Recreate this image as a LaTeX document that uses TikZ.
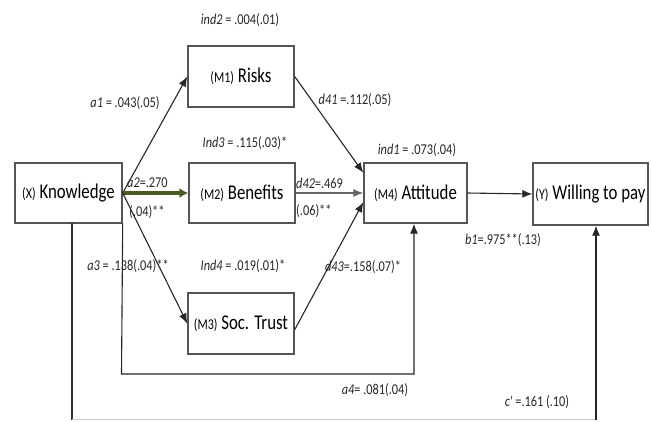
\documentclass[tikz,border=0pt]{standalone}
\usepackage{fontspec}
\setmainfont{Carlito}[FakeStretch=0.8]
\newfontfamily\labfont{Carlito}[FakeStretch=0.82]
\usetikzlibrary{arrows.meta,calc}
\definecolor{olivearr}{HTML}{4A5A22}
\definecolor{boxline}{HTML}{555555}
\tikzset{
  varbox/.style={draw=boxline,line width=1.4pt,minimum width=#1,inner sep=0pt,font=\fontsize{21}{23}\selectfont},
  lab/.style={inner sep=0pt,font=\labfont\fontsize{15}{16}\selectfont,text=black!85},
  conn/.style={line width=1.1pt,draw=black!85,-{Latex[length=10pt,width=8pt]}},
  plainline/.style={line width=1.1pt,draw=black!80},
  thickarr/.style={line width=3.8pt,draw=olivearr,-{Latex[length=9pt,width=10pt]}}
}
\newcommand{\pf}[1]{{\fontsize{15}{16}\selectfont #1}}
\begin{document}
\begin{tikzpicture}[x=1pt,y=-1pt]
\useasboundingbox (0,0) rectangle (651,421);
% boxes
\node[varbox=107pt,minimum height=60pt] (K) at (68.5,193) {\pf{(X)} Knowledge};
\node[varbox=106pt,minimum height=61pt] (M1) at (241,76.5) {\pf{(M1)} Risks};
\node[varbox=106pt,minimum height=60pt] (M2) at (242,193) {\pf{(M2)} Benefits};
\node[varbox=106pt,minimum height=61pt] (M3) at (241,323.5) {\pf{(M3)} Soc. Trust};
\node[varbox=103pt,minimum height=60pt] (M4) at (415.5,193) {\pf{(M4)} Attitude};
\node[varbox=115pt,minimum height=62pt] (Y) at (590.5,194) {\pf{(Y)} Willing to pay};
% connectors
\draw[conn] (K.east) -- (M1.west);
\draw[thickarr] (K.east) -- (M2.west);
\draw[conn] (K.east) -- (M3.west);
\draw[conn] (M1.east) -- ($(M4.north west)!0.17!(M4.south west)$);
\draw[conn,draw=black!60] (M2.east) -- (M4.west);
\draw[conn] ($(M3.north east)!0.6!(M3.south east)$) -- ($(M4.north west)!0.65!(M4.south west)$);
\draw[conn] (M4.east) -- (Y.west);
% direct path to attitude
\coordinate (p1) at (121.5,374);
\coordinate (p2) at (414,374);
\draw[conn] (K.south east) -- (p1) -- (p2) -- (p2 |- M4.south);
% c' path
\coordinate (q0) at (72,223);
\coordinate (q1) at (72,419.5);
\coordinate (q2) at (596,419.5);
\draw[plainline] (q0) -- (q1);
\draw[line width=0.8pt,draw=black!20] (q1) -- (q2);
\draw[conn] (q2) -- (q2 |- Y.south);
% labels
\node[lab] (l1) at (240,20) {\textit{ind2} = .004(.01)};
\node[lab] (l2) at (125,103) {\textit{a1} = .043(.05)};
\node[lab] (l3) at (245,143) {\textit{Ind3} = .115(.03)*};
\node[lab] (l4) at (355,100) {\textit{d41} =.112(.05)};
\node[lab] (l5) at (417,150) {\textit{ind1} = .073(.04)};
\node[lab,anchor=west] (l6) at (127,183) {\textit{a2}=.270};
\node[lab,anchor=west] (l7) at (129,212) {(.04)**};
\node[lab,anchor=west] (l8) at (296,183) {\textit{d42}=.469};
\node[lab,anchor=west] (l9) at (296,211) {(.06)**};
\node[lab] (l10) at (128,266) {\textit{a3} = .138(.04)**};
\node[lab] (l11) at (243,266) {\textit{Ind4} = .019(.01)*};
\node[lab] (l12) at (363,267) {\textit{d43}=.158(.07)*};
\node[lab] (l13) at (503,240) {\textit{b1}=.975**(.13)};
\node[lab] (l14) at (375,390) {\textit{a4}= .081(.04)};
\node[lab] (l15) at (537,402) {\textit{c'} =.161 (.10)};
\end{tikzpicture}
\end{document}
